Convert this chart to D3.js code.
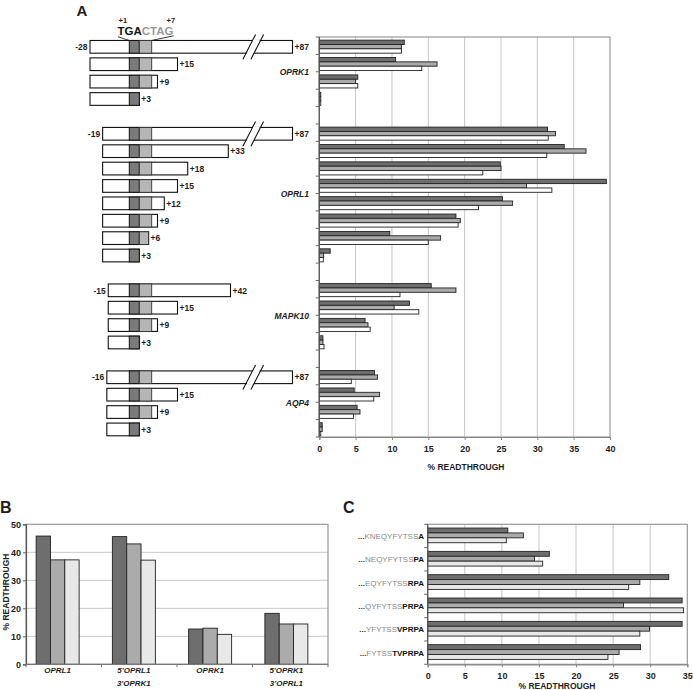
<!DOCTYPE html>
<html><head><meta charset="utf-8">
<script src="https://cdn.jsdelivr.net/npm/d3@7"></script>
<style>body{margin:0;background:#fff}svg{display:block}text{font-family:"Liberation Sans",Arial,sans-serif}</style>
</head><body><svg id="c" width="693" height="690"></svg>
<script>
// ---------- Panel A data ----------
const genes = ["OPRK1", "OPRL1", "MAPK10", "AQP4"];
const upstream = [-28, -19, -15, -16];
const constructEnds = [[87, 15, 9, 3], [87, 33, 18, 15, 12, 9, 6, 3], [42, 15, 9, 3], [87, 15, 9, 3]];
const aSeries1 = [[11.7, 10.5, 5.3, 0.2], [31.4, 33.7, 24.9, 39.5, 25.2, 18.8, 9.7, 1.5], [15.4, 12.4, 6.3, 0.5], [7.6, 4.8, 5.2, 0.4]];
const aSeries2 = [[11.3, 16.2, 5.0, 0.2], [32.5, 36.7, 25.0, 28.5, 26.6, 19.4, 16.7, 0.6], [18.8, 10.3, 6.7, 0.5], [8.0, 8.3, 5.6, 0.4]];
const aSeries3 = [[11.3, 14.1, 5.3, 0.2], [31.5, 31.3, 22.5, 32.0, 21.9, 19.1, 15.0, 0.55], [11.1, 13.7, 7.0, 0.65], [4.4, 7.5, 4.7, 0.2]];
const aTicks = [0, 5, 10, 15, 20, 25, 30, 35, 40];
const stopCodon = "TGA", context = "CTAG";

// ---------- Panel B data ----------
const bCategories = [["OPRL1"], ["5'OPRL1", "3'OPRK1"], ["OPRK1"], ["5'OPRK1", "3'OPRL1"]];
const bSeries1 = [45.8, 45.6, 12.6, 18.2];
const bSeries2 = [37.3, 43.0, 12.9, 14.4];
const bSeries3 = [37.3, 37.2, 10.7, 14.4];
const bTicks = [0, 10, 20, 30, 40, 50];

// ---------- Panel C data ----------
const cPrefix = ["KNEQYFYTSS", "NEQYFYTSS", "EQYFYTSS", "QYFYTSS", "YFYTSS", "FYTSS"];
const cSuffix = ["A", "PA", "RPA", "PRPA", "VPRPA", "TVPRPA"];
const cSeries1 = [10.8, 16.4, 32.5, 34.3, 34.3, 28.7];
const cSeries2 = [12.9, 14.4, 28.6, 26.4, 29.9, 25.8];
const cSeries3 = [10.6, 15.5, 27.1, 34.5, 28.6, 24.3];
const cTicks = [0, 5, 10, 15, 20, 25, 30, 35];

const svg = d3.select("#c");
const FONT = '"Liberation Sans",Arial,sans-serif';
const colA = ["#6e6e6e", "#ababab", "#ffffff"];
const colBC = ["#6e6e6e", "#ababab", "#e8e8e8"];
const gridC = "#c6c6c6", frameC = "#9a9a9a", ink = "#1e1e1e";

function txt(g, x, y, s, o = {}) {
  return g.append("text").attr("x", x).attr("y", y).text(s)
    .attr("font-size", o.size || 9).attr("font-weight", o.weight || "bold")
    .attr("font-style", o.style || "normal").attr("fill", o.fill || ink)
    .attr("text-anchor", o.anchor || "start");
}

// ================= PANEL A =================
const slots = [];
genes.forEach((g, gi) => {
  constructEnds[gi].forEach((e, ci) => slots.push({ gene: gi, ci, end: e, start: upstream[gi],
    vals: [aSeries1[gi][ci], aSeries2[gi][ci], aSeries3[gi][ci]] }));
  if (gi < genes.length - 1) slots.push(null);
});
const A = svg.append("g");
const yA = d3.scaleBand().domain(d3.range(slots.length)).range([37, 437]);
const xA = d3.scaleLinear().domain([0, 40]).range([319.3, 610]);
const bw = yA.bandwidth();
const subA = d3.scaleBand().domain([0, 1, 2]).range([bw * 0.18, bw * 0.93]);

// grid
A.selectAll(".ga").data(aTicks.slice(1, -1)).join("line")
  .attr("x1", d => xA(d)).attr("x2", d => xA(d)).attr("y1", 37).attr("y2", 437)
  .attr("stroke", gridC).attr("stroke-width", 1);
A.append("rect").attr("x", xA(0)).attr("y", 37).attr("width", xA(40) - xA(0)).attr("height", 400)
  .attr("fill", "none").attr("stroke", frameC).attr("stroke-width", 1.2);
// bars
slots.forEach((s, i) => {
  if (!s) return;
  s.vals.forEach((v, k) => {
    A.append("rect").attr("x", xA(0)).attr("y", yA(i) + subA(k))
      .attr("width", xA(v) - xA(0)).attr("height", subA.bandwidth())
      .attr("fill", colA[k]).attr("stroke", "#222").attr("stroke-width", 0.9);
  });
});
// y axis
A.append("line").attr("x1", xA(0)).attr("x2", xA(0)).attr("y1", 37).attr("y2", 437).attr("stroke", "#555").attr("stroke-width", 1.2);
A.selectAll(".ty").data(d3.range(slots.length + 1)).join("line")
  .attr("x1", xA(0) - 3.5).attr("x2", xA(0)).attr("y1", d => 37 + d * bw).attr("y2", d => 37 + d * bw)
  .attr("stroke", "#666").attr("stroke-width", 1);
// x axis
const axA = A.append("g").attr("transform", "translate(0,437)")
  .call(d3.axisBottom(xA).tickValues(aTicks).tickSize(3).tickPadding(6));
axA.select(".domain").attr("stroke", "#888").attr("stroke-width", 1.2);
axA.selectAll(".tick line").attr("stroke", "#888");
axA.selectAll(".tick text").attr("font-size", 9).attr("font-weight", "bold").attr("fill", ink).attr("font-family", FONT);
txt(A, 466, 470, "% READTHROUGH", { size: 8.5, anchor: "middle" });

// gene labels
genes.forEach((g, gi) => {
  const idx = slots.map((s, i) => (s && s.gene === gi) ? i : -1).filter(i => i >= 0);
  const yc = (yA(idx[0]) + yA(idx[idx.length - 1]) + bw) / 2;
  txt(A, 309, yc + 3.5, g, { size: 8.5, style: "italic", anchor: "end" });
});

// constructs
const xNt = d3.scaleLinear().domain([-28, 0, 3, 7, 9, 12, 15, 18, 33, 42, 87])
  .range([90, 129.3, 139.3, 151.7, 157.5, 164.3, 177.5, 187.7, 228.3, 230.5, 292.5]);
slots.forEach((s, i) => {
  if (!s) return;
  const y0 = yA(i) + bw * 0.2, h = bw * 0.73;
  const x0 = xNt(s.start), x1 = xNt(s.end);
  A.append("rect").attr("x", x0).attr("y", y0).attr("width", x1 - x0).attr("height", h)
    .attr("fill", "#fff").attr("stroke", "#111").attr("stroke-width", 1.1);
  A.append("rect").attr("x", xNt(0)).attr("y", y0).attr("width", xNt(3) - xNt(0)).attr("height", h)
    .attr("fill", "#7b7b7b").attr("stroke", "#111").attr("stroke-width", 1);
  if (s.end > 3) {
    A.append("rect").attr("x", xNt(3)).attr("y", y0).attr("width", xNt(Math.min(s.end, 7)) - xNt(3)).attr("height", h)
      .attr("fill", "#b6b6b6").attr("stroke", "#333").attr("stroke-width", 0.9);
  }
  if (s.end > 60) {
    const bxL = 246, bxR = 254, sk = 6.5;
    A.append("polygon")
      .attr("points", `${bxL + 0.5},${y0 + h + 0.8} ${bxL + sk + 0.5},${y0 - 0.8} ${bxR + sk - 0.5},${y0 - 0.8} ${bxR - 0.5},${y0 + h + 0.8}`)
      .attr("fill", "#fff");
    [bxL, bxR].forEach(b => {
      const t = (h + 12) / h;
      A.append("line").attr("x1", b - 6 * sk / h).attr("y1", y0 + h + 6)
        .attr("x2", b + sk + 6 * sk / h).attr("y2", y0 - 6)
        .attr("stroke", "#111").attr("stroke-width", 1.1);
    });
  }
  const yc = y0 + h / 2 + 3.2;
  if (s.ci === 0) txt(A, x0 - 2.5, yc, String(s.start), { size: 8.5, anchor: "end" });
  txt(A, x1 + 2, yc, "+" + s.end, { size: 8.5 });
});
// header above the first construct
const firstY = yA(0) + bw * 0.2;
const hdr = A.append("text").attr("x", 117.5).attr("y", 34.5).attr("font-size", 11.5).attr("font-weight", "bold");
hdr.append("tspan").attr("fill", "#111").text(stopCodon);
hdr.append("tspan").attr("fill", "#9a9a9a").text(context);
txt(A, 118.5, 23, "+1", { size: 7.5 });
txt(A, 166.5, 23, "+7", { size: 7.5 });
A.append("line").attr("x1", 118).attr("y1", 36.8).attr("x2", xNt(0)).attr("y2", firstY).attr("stroke", "#222").attr("stroke-width", 0.9);
A.append("line").attr("x1", 173.5).attr("y1", 35.8).attr("x2", xNt(7)).attr("y2", firstY).attr("stroke", "#222").attr("stroke-width", 0.9);
txt(svg, 76.5, 16, "A", { size: 15 });

// ================= PANEL B =================
const B = svg.append("g");
const bx0 = 26, bx1 = 328, by0 = 524.3, by1 = 664.3;
const yB = d3.scaleLinear().domain([0, 50]).range([by1, by0]);
const xB = d3.scaleBand().domain(d3.range(bCategories.length)).range([19.5, 324.5]);
const subB = d3.scaleBand().domain([0, 1, 2]).range([xB.bandwidth() / 2 - 21.5, xB.bandwidth() / 2 + 21.5]);
B.selectAll(".gb").data(bTicks.slice(1, -1)).join("line")
  .attr("x1", bx0).attr("x2", bx1).attr("y1", d => yB(d)).attr("y2", d => yB(d))
  .attr("stroke", gridC).attr("stroke-width", 1);
B.append("rect").attr("x", bx0).attr("y", by0).attr("width", bx1 - bx0).attr("height", by1 - by0)
  .attr("fill", "none").attr("stroke", frameC).attr("stroke-width", 1.2);
const bVals = [bSeries1, bSeries2, bSeries3];
bCategories.forEach((c, i) => {
  bVals.forEach((ser, k) => {
    B.append("rect").attr("x", xB(i) + subB(k)).attr("y", yB(ser[i]))
      .attr("width", subB.bandwidth()).attr("height", yB(0) - yB(ser[i]))
      .attr("fill", colBC[k]).attr("stroke", "#222").attr("stroke-width", 0.9);
  });
  c.forEach((line, li) => txt(B, xB(i) + xB.bandwidth() / 2, 673 + li * 12.5, line,
    { size: 8, style: "italic", anchor: "middle" }));
});
const ayB = B.append("g").attr("transform", `translate(${bx0},0)`)
  .call(d3.axisLeft(yB).tickValues(bTicks).tickSize(3).tickPadding(2));
ayB.select(".domain").attr("stroke", "#555").attr("stroke-width", 1.2);
ayB.selectAll(".tick line").attr("stroke", "#666");
ayB.selectAll(".tick text").attr("font-size", 9).attr("font-weight", "bold").attr("fill", ink).attr("font-family", FONT);
B.append("line").attr("x1", bx0).attr("x2", bx1).attr("y1", by1).attr("y2", by1).attr("stroke", "#777").attr("stroke-width", 1.2);
d3.range(5).forEach(k => B.append("line").attr("x1", bx0 + k * (bx1 - bx0) / 4).attr("x2", bx0 + k * (bx1 - bx0) / 4)
  .attr("y1", by1).attr("y2", by1 + 3).attr("stroke", "#777"));
txt(B, 0, 0, "% READTHROUGH", { size: 8.5, anchor: "middle" }).attr("transform", "translate(9,592) rotate(-90)");
txt(svg, 0, 513, "B", { size: 16 });

// ================= PANEL C =================
const C = svg.append("g");
const cx0 = 427.7, cx1 = 687.3, cy0 = 524.3, cy1 = 664.3;
const xC = d3.scaleLinear().domain([0, 35]).range([cx0, cx1]);
const yC = d3.scaleBand().domain(d3.range(cPrefix.length)).range([cy0, cy1]);
const cb = yC.bandwidth();
const subC = d3.scaleBand().domain([0, 1, 2]).range([cb * 0.16, cb * 0.79]);
C.selectAll(".gc").data(cTicks.slice(1, -1)).join("line")
  .attr("x1", d => xC(d)).attr("x2", d => xC(d)).attr("y1", cy0).attr("y2", cy1)
  .attr("stroke", gridC).attr("stroke-width", 1);
C.append("rect").attr("x", cx0).attr("y", cy0).attr("width", cx1 - cx0).attr("height", cy1 - cy0)
  .attr("fill", "none").attr("stroke", frameC).attr("stroke-width", 1.2);
const cVals = [cSeries1, cSeries2, cSeries3];
cPrefix.forEach((p, i) => {
  cVals.forEach((ser, k) => {
    C.append("rect").attr("x", xC(0)).attr("y", yC(i) + subC(k))
      .attr("width", xC(ser[i]) - xC(0)).attr("height", subC.bandwidth())
      .attr("fill", colBC[k]).attr("stroke", "#222").attr("stroke-width", 0.9);
  });
  const t = C.append("text").attr("x", 424).attr("y", yC(i) + cb / 2 + 3).attr("text-anchor", "end").attr("font-size", 8);
  t.append("tspan").attr("fill", "#333").attr("font-weight", "bold").text("...");
  t.append("tspan").attr("fill", "#8a8a8a").text(p);
  t.append("tspan").attr("fill", "#111").attr("font-weight", "bold").text(cSuffix[i]);
});
C.append("line").attr("x1", cx0).attr("x2", cx0).attr("y1", cy0).attr("y2", cy1).attr("stroke", "#555").attr("stroke-width", 1.2);
C.selectAll(".tc").data(d3.range(cPrefix.length + 1)).join("line")
  .attr("x1", cx0 - 3.5).attr("x2", cx0).attr("y1", d => cy0 + d * cb).attr("y2", d => cy0 + d * cb)
  .attr("stroke", "#666");
const axC = C.append("g").attr("transform", `translate(0,${cy1})`)
  .call(d3.axisBottom(xC).tickValues(cTicks).tickSize(3).tickPadding(5));
axC.select(".domain").attr("stroke", "#888").attr("stroke-width", 1.2);
axC.selectAll(".tick line").attr("stroke", "#888");
axC.selectAll(".tick text").attr("font-size", 9).attr("font-weight", "bold").attr("fill", ink).attr("font-family", FONT);
txt(C, 557, 689, "% READTHROUGH", { size: 8.5, anchor: "middle" });
txt(svg, 343, 513, "C", { size: 16 });
</script></body></html>
